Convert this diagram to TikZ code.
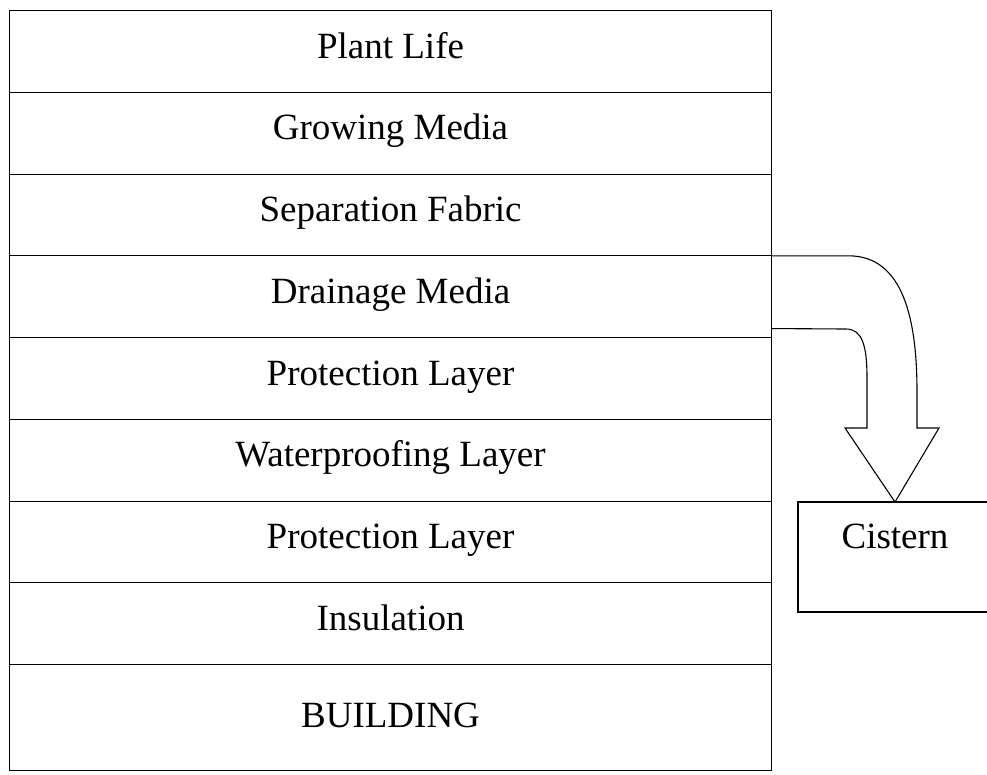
\documentclass[tikz,border=0pt]{standalone}
\usepackage{fontspec}
\setmainfont{Liberation Serif}
\usetikzlibrary{matrix}

\begin{document}
\begin{tikzpicture}[x=1pt,y=1pt,line width=1.1pt,
  font=\fontsize{37}{40}\selectfont]
\useasboundingbox (0,0) rectangle (987,-774);
\matrix (s) [matrix of nodes, anchor=north west, row sep=-1.1pt,
inner sep=0pt, outer sep=0pt,
nodes={draw, outer sep=0pt, inner sep=0pt, minimum width=762pt,
text height=47.5pt, text depth=34.25pt}] at (9,-10)
{ Plant Life \\
  Growing Media \\
  Separation Fabric \\
  Drainage Media \\
  Protection Layer \\
  Waterproofing Layer \\
  Protection Layer \\
  Insulation \\
  |[text height=63pt, text depth=43pt]| BUILDING \\};
\node (c) [draw, anchor=north west, minimum width=194pt,
  inner sep=0pt, outer sep=0pt, text height=46pt, text depth=64pt]
  at (798,-502) {Cistern};
\coordinate (in) at ([yshift=9pt]s-4-1.south east);
\draw[line join=miter] (s-4-1.north east) -- ++(77,0)
  .. controls +(55,0) and (917,-320) .. (917,-392)
  -- (917,-428) -- (939,-428) -- (c.north) -- (845,-428)
  -- (867,-428) -- (867,-378)
  .. controls (867,-345) and (862,-329) .. (846,-329) -- (in);
\end{tikzpicture}
\end{document}
